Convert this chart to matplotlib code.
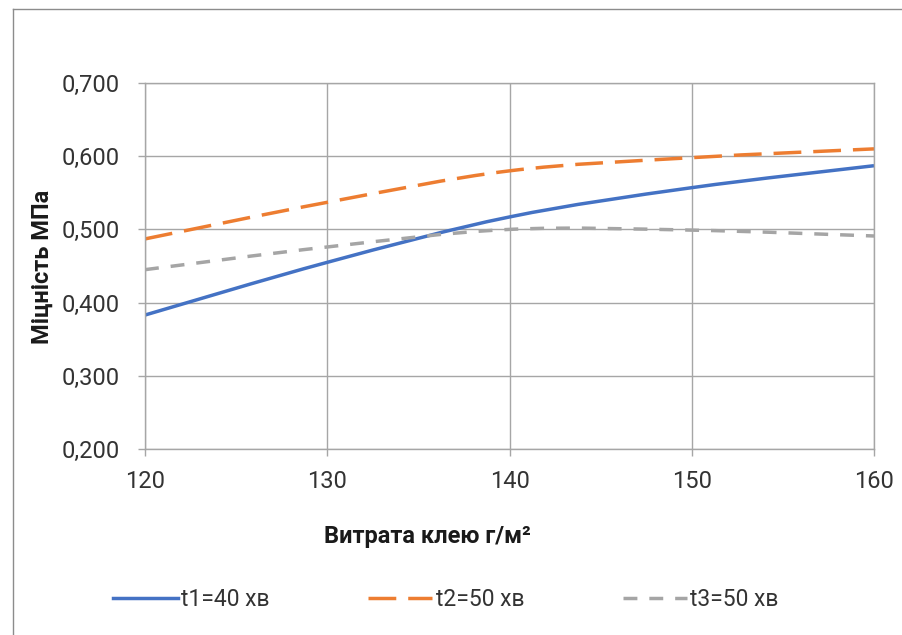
import matplotlib
matplotlib.use("Agg")
import matplotlib.pyplot as plt
from matplotlib.path import Path
from matplotlib.patches import PathPatch
from matplotlib.lines import Line2D
from matplotlib.ticker import FuncFormatter

# ---- data ----
x_vals = [120, 130, 140, 150, 160]
t1_vals = [0.383, 0.455, 0.517, 0.557, 0.587]
t2_vals = [0.487, 0.537, 0.580, 0.598, 0.610]
t3_vals = [0.445, 0.476, 0.500, 0.499, 0.491]
series_labels = ["t1=40 хв", "t2=50 хв", "t3=50 хв"]
x_label = "Витрата клею г/м²"
y_label = "Міцність МПа"
y_ticks = [0.2, 0.3, 0.4, 0.5, 0.6, 0.7]
x_ticks = [120, 130, 140, 150, 160]

plt.rcParams['font.family'] = ['Roboto', 'DejaVu Sans']
plt.rcParams['lines.scale_dashes'] = False

W, H = 902, 635
fig = plt.figure(figsize=(W / 100, H / 100), dpi=100)
fig.patch.set_facecolor("white")

# plot area in pixels
L, R, T, B = 145, 874, 83, 449
ax = fig.add_axes([L / W, 1 - B / H, (R - L) / W, (B - T) / H])

grid_c = "#A6A6A6"
text_c = "#333333"

ax.set_xlim(120, 160)
ax.set_ylim(0.2, 0.7)
ax.set_xticks(x_ticks)
ax.set_yticks(y_ticks)
ax.yaxis.set_major_formatter(FuncFormatter(lambda v, p: f"{v:.3f}".replace(".", ",")))
ax.grid(True, color=grid_c, linewidth=1.0)
ax.set_axisbelow(True)
for s in ax.spines.values():
    s.set_color(grid_c)
    s.set_linewidth(1.0)
ax.tick_params(axis="both", direction="out", length=5, width=1.0, color=grid_c,
               labelsize=17, labelcolor=text_c)
ax.tick_params(axis="y", pad=13)
ax.tick_params(axis="x", pad=10)


def smooth_path(xs, ys):
    n = len(xs)
    verts = [(xs[0], ys[0])]
    codes = [Path.MOVETO]
    for i in range(n - 1):
        p0 = i - 1 if i > 0 else i
        p3 = i + 2 if i + 2 < n else i + 1
        c1 = (xs[i] + (xs[i + 1] - xs[p0]) / 6, ys[i] + (ys[i + 1] - ys[p0]) / 6)
        c2 = (xs[i + 1] - (xs[p3] - xs[i]) / 6, ys[i + 1] - (ys[p3] - ys[i]) / 6)
        verts += [c1, c2, (xs[i + 1], ys[i + 1])]
        codes += [Path.CURVE4] * 3
    return Path(verts, codes)


colors = ["#4472C4", "#ED7D31", "#A5A5A5"]
styles = ["-", (0, (20, 8.6)), (0, (10, 8.6))]
lw = 2.5
handles = []
for ys, c, ls, lab in zip([t1_vals, t2_vals, t3_vals], colors, styles, series_labels):
    patch = PathPatch(smooth_path(x_vals, ys), facecolor="none", edgecolor=c,
                      linewidth=lw, linestyle=ls, capstyle="butt", joinstyle="round")
    ax.add_patch(patch)
    handles.append(Line2D([], [], color=c, linewidth=lw, linestyle=ls,
                          dash_capstyle="butt", label=lab))

fig.text(42 / W, 1 - 267 / H, y_label, rotation=90, ha="center", va="center",
         fontsize=17, fontweight="bold", color="#1a1a1a")
fig.text(427 / W, 1 - 537 / H, x_label, ha="center", va="center",
         fontsize=17, fontweight="bold", color="#1a1a1a")

leg = fig.legend(handles=handles, loc="center", bbox_to_anchor=(446 / W, 1 - 600 / H),
                 ncol=3, frameon=False, fontsize=16.5, handlelength=2.8,
                 handletextpad=0.15, columnspacing=4.3, labelcolor=text_c)

# outer chart border (left and top visible)
fig.add_artist(Line2D([13 / W, 13 / W], [0, 1 - 9 / H], transform=fig.transFigure,
                      color="#8C8C8C", linewidth=1.0))
fig.add_artist(Line2D([13 / W, 1], [1 - 9 / H, 1 - 9 / H], transform=fig.transFigure,
                      color="#8C8C8C", linewidth=1.0))

fig.savefig("out.png", dpi=100)
